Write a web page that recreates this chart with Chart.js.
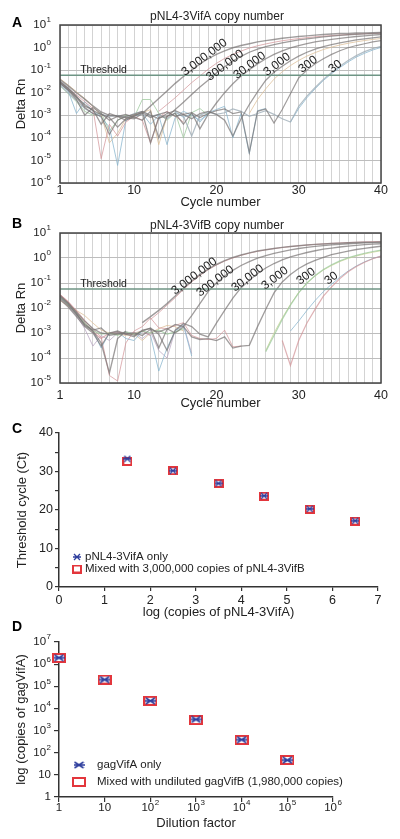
<!DOCTYPE html>
<html>
<head>
<meta charset="utf-8">
<script src="https://cdn.jsdelivr.net/npm/chart.js@4.4.1/dist/chart.umd.min.js"></script>
<style>
html, body { margin: 0; padding: 0; background: #fff; }
#wrap { position: relative; width: 400px; height: 839px; }
.panel { position: absolute; left: 0; width: 400px; }
</style>
</head>
<body>
<div id="wrap">
    <div class="panel" style="top:0"><canvas id="chartA" width="400" height="210"></canvas></div>
    <div class="panel" style="top:210px"><canvas id="chartB" width="400" height="210"></canvas></div>
    <div class="panel" style="top:420px"><canvas id="chartC" width="400" height="200"></canvas></div>
    <div class="panel" style="top:620px"><canvas id="chartD" width="400" height="219"></canvas></div>
</div>
<script>
// ---- data ----
var cycles = [1,2,3,4,5,6,7,8,9,10,11,12,13,14,15,16,17,18,19,20,21,22,23,24,25,26,27,28,29,30,31,32,33,34,35,36,37,38,39,40];
var cycleLabels = [1, 10, 20, 30, 40];
var dilutionNames = ['3,000,000', '300,000', '30,000', '3,000', '300', '30'];

var thresholdA = 0.06;
var thresholdB = 0.058;
var aTicks = [1e-6, 1e-5, 1e-4, 1e-3, 1e-2, 1e-1, 1, 10];
var bTicks = [1e-5, 1e-4, 1e-3, 1e-2, 1e-1, 1, 10];

// panel A: one full trace per dilution (cycles 1-40)
var a3M = [3.8e-2,2.0e-2,1.0e-2,5.2e-3,2.6e-3,1.4e-3,1.0e-3,9e-4,8e-4,7e-4,1.2e-3,2.6e-3,5.6e-3,1.2e-2,2.6e-2,5.2e-2,0.10,0.19,0.32,0.50,0.72,0.98,1.23,1.48,1.78,2.04,2.29,2.57,2.82,3.09,3.31,3.55,3.8,3.98,4.17,4.27,4.4,4.5,4.6,4.7];
var a300k = [3.2e-2,1.6e-2,7e-3,2.5e-3,1.8e-3,4e-4,1.2e-3,9e-4,6e-4,9e-4,1.4e-3,6e-5,8e-4,8.7e-4,1.8e-3,3.8e-3,8.3e-3,1.8e-2,3.6e-2,7.4e-2,0.14,0.25,0.41,0.62,0.85,1.1,1.35,1.62,1.9,2.19,2.45,2.69,2.95,3.24,3.47,3.7,3.89,4.07,4.2,4.37];
var a30k = [2.8e-2,1.3e-2,5e-3,1e-3,2.2e-3,1.2e-3,6e-4,9e-4,1.1e-3,8e-4,6e-4,1.5e-3,1e-4,9e-4,1.2e-3,4e-4,1.3e-3,2.5e-4,1.1e-3,3.5e-3,1e-2,2.5e-2,5.5e-2,0.105,0.19,0.32,0.5,0.72,0.98,1.23,1.48,1.78,2.04,2.29,2.57,2.82,3.09,3.31,3.55,3.8];
var a3k = [3.0e-2,1.5e-2,6.5e-3,3e-3,1.6e-3,1.1e-3,8e-4,3e-4,7e-4,1e-3,1.3e-3,8e-4,1.1e-3,1.4e-3,9e-4,1.1e-3,7e-4,1.2e-3,1.5e-3,1.1e-3,6e-4,1.2e-4,7e-4,3e-3,1.1e-2,3.6e-2,8e-2,0.15,0.26,0.42,0.62,0.85,1.1,1.35,1.62,1.9,2.19,2.45,2.69,2.95];
var a300 = [2.6e-2,1.3e-2,6e-3,2.2e-3,1.2e-3,9e-4,1.4e-4,6e-4,9e-4,1.1e-3,1.5e-3,1e-3,7e-4,1.2e-3,1.6e-3,1.1e-3,1.3e-3,8e-4,1.2e-3,1.6e-3,1.9e-3,1.2e-3,1.4e-3,2.2e-5,1.5e-3,1.9e-3,4.5e-4,1.8e-3,9e-3,4.5e-2,0.1,0.19,0.32,0.5,0.72,0.98,1.23,1.48,1.78,2.04];
var a30 = [2.2e-2,1.0e-2,4.5e-3,2e-3,1.2e-3,1.1e-3,9e-4,1e-3,8e-4,1.2e-3,1.5e-3,9e-4,1.1e-3,7e-4,1.3e-3,9e-4,1.2e-4,1e-3,1.4e-3,1.1e-3,1.3e-3,1.9e-3,1.5e-3,9e-4,1.2e-3,1.6e-3,1.1e-3,7e-4,5e-4,2.5e-3,7e-3,1.7e-2,3.9e-2,7.8e-2,0.15,0.27,0.44,0.66,0.9,1.15];
// panel A: extra replicate / baseline traces (first cycle noted)
var aNoise1 = [3.0e-2,1.5e-2,8e-3,4e-3,2e-3,1.2e-5,4e-4,1.2e-4,5e-4,9e-4,6e-4,6e-5,8e-4,1.5e-3,9e-4,5e-4];
var aNoise2 = [2.5e-2,1.2e-2,1.2e-3,4e-3,1.5e-3,8e-4,3e-4,6e-6,6e-4,9e-4,1.2e-3,4e-4,1e-3,5e-5,8e-4,1.5e-3,1e-3,6e-4,1.1e-3];
var aNoise3 = [4.2e-2,2.2e-2,1.1e-2,5.5e-3,2.5e-3,1e-3,6e-5,1.6e-4,7e-4,1e-3,1.3e-3,1.8e-3,5e-5,9e-4];
var aNoise4 = [2e-2,9e-3,4e-3,1.5e-3,1e-3,1.3e-3,2e-4,6e-4,1e-3,8e-4,5e-3,5e-3,1.2e-3,6e-4,1.3e-3,1e-4,1.3e-3,2e-3,1e-3];
var aNoise5 = [1.5e-3,8e-4,1.2e-3,5e-4,1.3e-3,1.8e-3,2.5e-3,1e-4,1.2e-3,2e-5,1.6e-3,2e-3];            // from cycle 15
var aRep300k = [1.5e-3,3e-3,6e-3,1.3e-2,2.8e-2,5.5e-2,0.11,0.2,0.33,0.5,0.7,0.95,1.2,1.45,1.72,2.0,2.25,2.5,2.75,3.0,3.2,3.4,3.6,3.78,3.95,4.1,4.22,4.35]; // from 13
var aRep3k = [1.2e-3,5e-3,1.5e-2,4e-2,8.5e-2,0.16,0.27,0.42,0.6,0.82,1.05,1.3,1.55,1.8,2.05,2.3,2.5]; // from 24
var aRep30 = [5e-4,2e-3,6e-3,1.5e-2,3.5e-2,7e-2,0.13,0.23,0.38,0.56,0.78,1.02];   // from 29

// panel B
var b3M = [3e-2,1.5e-2,6e-3,2e-3,1.2e-3,4e-4,2.5e-5,6e-4,1.2e-3,null,2.6e-3,4.5e-3,8e-3,1.5e-2,3e-2,6.2e-2,0.12,0.22,0.36,0.55,0.78,1.05,1.32,1.6,1.9,2.15,2.4,2.65,2.9,3.1,3.3,3.5,3.65,3.8,3.92,4.05,4.15,4.25,4.32,4.4];
var b300k = [3.2e-2,1.6e-2,7e-3,3e-3,1.5e-3,1e-3,9e-4,1e-3,9e-4,7e-4,1.3e-3,1.5e-3,2.5e-4,1.4e-3,2.2e-3,1.8e-3,5e-3,1.5e-2,4.5e-2,0.1,0.19,0.32,0.5,0.72,0.98,1.25,1.52,1.8,2.1,2.4,2.65,2.9,3.15,3.35,3.55,3.72,3.88,4.0,4.12,4.22];
var b30k = [2.6e-2,1.3e-2,5.5e-3,2.2e-3,1.3e-3,1.6e-3,8e-4,9e-4,1e-3,8e-4,1.2e-3,1.6e-3,9e-4,2e-4,1.3e-3,2.4e-3,1.8e-3,9e-4,7e-4,2.5e-3,8e-3,2.5e-2,6.5e-2,0.13,0.24,0.4,0.6,0.84,1.1,1.38,1.66,1.95,2.25,2.5,2.75,3.0,3.2,3.4,3.58,3.72];
var b3k = [2.2e-2,1.1e-2,4.5e-3,1.8e-3,1e-3,3e-4,1e-3,1.2e-3,9e-4,1e-3,8e-4,1.4e-3,1.1e-3,1.5e-3,1e-3,1.8e-3,7e-4,5.5e-4,6e-4,5e-4,7e-4,2.5e-4,3e-4,3.2e-4,1.8e-3,8.9e-3,4e-2,0.11,0.22,0.38,0.58,0.81,1.07,1.35,1.62,1.9,2.19,2.45,2.69,2.95];
var b300 = [2.8e-2,1.4e-2,6e-3,2.4e-3,1.2e-3,9e-4,1e-3,8e-4,1.1e-3,9e-4,1.2e-3,1e-3,1.3e-3,9e-4,1.1e-3,1.5e-3,null,null,null,null,null,null,null,null,null,1.8e-4,8e-4,3.5e-3,1.3e-2,4e-2,0.1,0.2,0.35,0.54,0.77,1.02,1.28,1.55,1.82,2.08];
var b30 = [3.4e-2,1.7e-2,7e-3,2.6e-3,1.1e-3,6e-4,1e-3,1.1e-3,9e-4,1e-3,1.2e-3,8e-4,null,null,null,null,null,null,null,null,null,null,null,null,null,null,null,5e-4,5e-5,5e-4,2.5e-3,9e-3,3e-2,7e-2,0.15,0.28,0.46,0.68,0.93,1.2];
var bNoise1 = [2.8e-2,1.4e-2,6e-3,2.5e-3,1.2e-3,2.5e-4,1e-3,1.1e-3,6e-4,5e-4,1.2e-3,8e-4,3e-5,2.5e-4,1.2e-3,2e-3,1.2e-4];
var bNoise2 = [3.5e-2,1.8e-2,8e-3,3.2e-3,1.4e-3,7e-4,2e-5,1.2e-5,4e-4,1.2e-3,1.8e-3,4e-3,1.6e-3,1.5e-3,2e-3,2.6e-3,8e-4,6e-4,5.5e-4,6e-4,1.3e-3,2.8e-4,3e-4];
var bNoise3 = [2e-2,1.2e-2,8e-3,5e-3,2.5e-3,1.3e-3,1e-3,9e-4,8e-4,9e-4,5e-4,1e-3,1.5e-3,2e-3,1.8e-3,1.2e-3];
var bNoise4 = [2.4e-2,1.2e-2,5e-3,1.5e-3,3e-4,8e-4,5e-4,1e-3,1.1e-3,1e-3,6e-4,1.1e-3,2e-4,1e-4,1.3e-3,2.2e-3,1.5e-4];
var bRep3M = [3.5e-3,6.5e-3,1.3e-2,2.6e-2,5.5e-2,0.11,0.2,0.34,0.52,0.75,1.0,1.28,1.56,1.85,2.12,2.38,2.62,2.86,3.08,3.3,3.5,3.68,3.85,4.0,4.15,4.28,4.4,4.5,4.6]; // from 12
var bRep300 = [2e-4,1e-3,4e-3,1.4e-2,4.2e-2,0.1,0.19,0.33,0.5,0.72,0.96,1.2,1.45,1.7,1.95]; // from 26
var bRep30 = [1.2e-3,3e-3,8e-3,2e-2,4.5e-2,9e-2,0.17,0.3,0.48,0.7,0.95,1.2]; // from 29

// panel C
var cLogCopies = [1.5, 2.5, 3.5, 4.5, 5.5, 6.5];
var cCtOnly = [33.3, 30.2, 26.9, 23.7, 20.3, 17.2];
var cCtMixed = [32.6, 30.2, 26.9, 23.6, 20.2, 17.1];

// panel D
var dDilution = [1, 10, 100, 1000, 10000, 100000];
var dCopiesOnly = [1.95e6, 2.0e5, 2.2e4, 3.2e3, 3.9e2, 4.6e1];
var dCopiesMixed = [1.9e6, 2.0e5, 2.2e4, 3.0e3, 3.8e2, 4.7e1];
var dYTicks = [1, 10, 1e2, 1e3, 1e4, 1e5, 1e6, 1e7];
var dXTicks = [1, 10, 1e2, 1e3, 1e4, 1e5, 1e6];

// ---- styling ----
var FONT = 'Arial, "Liberation Sans", Helvetica, sans-serif';
var INK = '#222';
var GREY = 'rgba(120,116,116,0.7)';
var PINK = 'rgba(210,145,150,0.7)';
var BLUE = 'rgba(135,180,205,0.75)';
var TAN = 'rgba(220,190,150,0.75)';
var GREEN = 'rgba(155,200,155,0.75)';
var LILAC = 'rgba(180,160,190,0.7)';

function pad(start, values) {
    var out = cycles.map(function() { return null; });
    values.forEach(function(v, i) { out[start - 1 + i] = v; });
    return out;
}

function trace(data, color, width) {
    return {
        data: data,
        borderColor: color,
        borderWidth: width || 1,
        pointRadius: 0,
        fill: false,
        tension: 0,
        spanGaps: false
    };
}

function points(xs, ys) {
    return xs.map(function(x, i) { return { x: x, y: ys[i] }; });
}

function expParts(v, plainSmall) {
    var e = Math.round(Math.log10(v));
    if (plainSmall && e === 0) return ['1', ''];
    if (plainSmall && e === 1) return ['10', ''];
    return ['10', String(e)];
}

function drawPow(ctx, v, x, y, align, size, plainSmall) {
    var p = expParts(v, plainSmall);
    ctx.font = size + 'px ' + FONT;
    var w1 = ctx.measureText(p[0]).width;
    ctx.font = Math.round(size * 0.72) + 'px ' + FONT;
    var w2 = p[1] ? ctx.measureText(p[1]).width + 0.5 : 0;
    var x0 = align === 'right' ? x - w1 - w2 : x - (w1 + w2) / 2;
    ctx.fillStyle = INK;
    ctx.textAlign = 'left';
    ctx.textBaseline = 'middle';
    ctx.font = size + 'px ' + FONT;
    ctx.fillText(p[0], x0, y);
    if (p[1]) {
        ctx.font = Math.round(size * 0.72) + 'px ' + FONT;
        ctx.fillText(p[1], x0 + w1 + 0.5, y - size * 0.42);
    }
}

function drawLetter(ctx, letter, x, y) {
    ctx.fillStyle = '#000';
    ctx.font = 'bold 14px ' + FONT;
    ctx.textAlign = 'left';
    ctx.textBaseline = 'alphabetic';
    ctx.fillText(letter, x, y);
}

// ---- panels A and B ----
function qpcrPlugin(cfg) {
    return {
        id: 'qpcrText' + cfg.letter,
        afterDraw: function(chart) {
            var ctx = chart.ctx, area = chart.chartArea;
            var xs = chart.scales.x, ys = chart.scales.y;
            ctx.save();
            ctx.strokeStyle = '#444';
            ctx.lineWidth = 1.5;
            ctx.strokeRect(area.left, area.top, area.right - area.left, area.bottom - area.top);

            drawLetter(ctx, cfg.letter, 12, cfg.letterY);
            ctx.fillStyle = INK;
            ctx.font = '12px ' + FONT;
            ctx.textAlign = 'center';
            ctx.textBaseline = 'middle';
            ctx.fillText(cfg.title, 217, cfg.titleY);

            ys.ticks.forEach(function(t) {
                drawPow(ctx, t.value, 51, ys.getPixelForValue(t.value), 'right', 11.5, false);
            });

            var ty = ys.getPixelForValue(cfg.threshold);
            ctx.fillStyle = INK;
            ctx.font = '10.5px ' + FONT;
            ctx.textAlign = 'left';
            ctx.textBaseline = 'alphabetic';
            ctx.fillText('Threshold', xs.getPixelForValue(3.45), ty - 2);

            ctx.font = '12px ' + FONT;
            dilutionNames.forEach(function(name, i) {
                ctx.save();
                ctx.translate(xs.getPixelForValue(cfg.labelCycles[i]), ty + cfg.labelShift[i]);
                ctx.rotate(-37 * Math.PI / 180);
                ctx.fillText(name, 0, 0);
                ctx.restore();
            });
            ctx.restore();
        }
    };
}

function qpcrChart(id, cfg) {
    var lines = [trace(cycles.map(function() { return cfg.threshold; }), '#6f9585', 1.5)].concat(cfg.datasets);
    return new Chart(document.getElementById(id), {
        type: 'line',
        data: { labels: cycles, datasets: lines },
        options: {
            responsive: false,
            animation: false,
            events: [],
            layout: { padding: { top: cfg.padTop, right: 19, left: 0, bottom: 0 } },
            plugins: { legend: { display: false }, tooltip: { enabled: false } },
            scales: {
                x: {
                    type: 'linear', min: 1, max: 40,
                    afterBuildTicks: function(s) { s.ticks = cycles.map(function(c) { return { value: c }; }); },
                    afterFit: function(s) { s.height = cfg.xHeight; },
                    ticks: {
                        autoSkip: false, maxRotation: 0, padding: cfg.xTickPad, color: INK,
                        font: { family: FONT, size: 12.5 },
                        callback: function(v) { return cycleLabels.indexOf(v) >= 0 ? String(v) : ''; }
                    },
                    grid: { color: '#d3d3d3', lineWidth: 1, drawTicks: false },
                    border: { display: false },
                    title: { display: true, text: 'Cycle number', color: INK, font: { family: FONT, size: 13 }, padding: { top: 0, bottom: cfg.xTitlePad } }
                },
                y: {
                    type: 'logarithmic', min: cfg.ticks[0], max: 10,
                    afterBuildTicks: function(s) { s.ticks = cfg.ticks.map(function(v) { return { value: v }; }); },
                    afterFit: function(s) { s.width = 60; },
                    ticks: { display: false },
                    grid: { color: '#bdbdbd', lineWidth: 1, drawTicks: false },
                    border: { display: false },
                    title: { display: true, text: 'Delta Rn', color: INK, font: { family: FONT, size: 13 }, padding: { top: 14, bottom: 0 } }
                }
            }
        },
        plugins: [qpcrPlugin(cfg)]
    });
}

qpcrChart('chartA', {
    letter: 'A', letterY: 27, title: 'pNL4-3VifA copy number', titleY: 17,
    threshold: thresholdA, ticks: aTicks,
    padTop: 25, xHeight: 27, xTickPad: 0, xTitlePad: 0,
    labelCycles: [16.2, 19.2, 22.5, 26.15, 30.4, 34.05],
    labelShift: [1, 6, 4, 1, -2, -2],
    datasets: [
        trace(a3M, GREY, 1.4), trace(a300k, GREY, 1.3), trace(a30k, GREY, 1.3),
        trace(a3k, GREY, 1.3), trace(a300, GREY, 1.2), trace(a30, 'rgba(160,175,185,0.8)', 1.2),
        trace(pad(13, aRep300k), PINK, 1), trace(pad(24, aRep3k), TAN, 1), trace(pad(29, aRep30), BLUE, 1),
        trace(pad(1, aNoise1), PINK, 1), trace(pad(1, aNoise2), BLUE, 1), trace(pad(1, aNoise3), TAN, 1),
        trace(pad(1, aNoise4), GREEN, 1), trace(pad(15, aNoise5), BLUE, 1)
    ]
});

qpcrChart('chartB', {
    letter: 'B', letterY: 18, title: 'pNL4-3VifB copy number', titleY: 16,
    threshold: thresholdB, ticks: bTicks,
    padTop: 23, xHeight: 37, xTickPad: 5, xTitlePad: 9,
    labelCycles: [14.97, 18.0, 22.26, 25.9, 30.16, 33.56],
    labelShift: [6, 8, 3, 1, -4, -4],
    datasets: [
        trace(b3M, GREY, 1.4), trace(b300k, GREY, 1.3), trace(b30k, GREY, 1.3),
        trace(b3k, GREY, 1.3), trace(b300, GREEN, 1.2), trace(b30, PINK, 1.2),
        trace(pad(12, bRep3M), PINK, 1), trace(pad(26, bRep300), 'rgba(205,215,155,0.8)', 1), trace(pad(29, bRep30), BLUE, 1),
        trace(pad(1, bNoise1), BLUE, 1), trace(pad(1, bNoise2), PINK, 1), trace(pad(1, bNoise3), TAN, 1),
        trace(pad(1, bNoise4), LILAC, 1)
    ]
});

// ---- markers for C and D ----
function marker(w, h, draw) {
    var c = document.createElement('canvas');
    c.width = w;
    c.height = h;
    draw(c.getContext('2d'), w, h);
    return c;
}
function boxMarker(w, h) {
    return marker(w, h, function(g) {
        g.fillStyle = '#fff';
        g.fillRect(1, 1, w - 2, h - 2);
        g.strokeStyle = '#e3363c';
        g.lineWidth = 2;
        g.strokeRect(1, 1, w - 2, h - 2);
    });
}
function starMarker(w, h, vertical, lw) {
    return marker(w, h, function(g) {
        g.strokeStyle = '#2f3f9e';
        g.lineWidth = lw;
        g.beginPath();
        g.moveTo(1, 1); g.lineTo(w - 1, h - 1);
        g.moveTo(w - 1, 1); g.lineTo(1, h - 1);
        g.moveTo(0, h / 2); g.lineTo(w, h / 2);
        if (vertical) { g.moveTo(w / 2, 0); g.lineTo(w / 2, h); }
        g.stroke();
    });
}
var cStar = starMarker(8, 8, false, 1.3);
var cBox = boxMarker(10, 9);
var dStar = starMarker(11, 8, false, 1.6);
var dBox = boxMarker(14, 10);

function axisStyle(title, titlePad, tickSize) {
    return {
        grid: { display: true, drawOnChartArea: false, drawTicks: true, tickLength: 4, color: '#333', lineWidth: 1.2 },
        border: { display: true, color: '#333', width: 1.5 },
        ticks: { color: INK, font: { family: FONT, size: tickSize }, padding: 2 },
        title: { display: true, text: title, color: INK, font: { family: FONT, size: 13 }, padding: titlePad }
    };
}

function legendPlugin(id, letter, letterY, rows, extra) {
    return {
        id: id,
        afterDraw: function(chart) {
            var ctx = chart.ctx;
            ctx.save();
            drawLetter(ctx, letter, 12, letterY);
            rows.forEach(function(r) {
                ctx.drawImage(r.img, r.x - r.img.width / 2, r.y - r.img.height / 2);
                ctx.fillStyle = INK;
                ctx.font = '11.5px ' + FONT;
                ctx.textAlign = 'left';
                ctx.textBaseline = 'middle';
                ctx.fillText(r.text, r.tx, r.y);
            });
            if (extra) extra(chart, ctx);
            ctx.restore();
        }
    };
}

// ---- panel C ----
var cX = axisStyle('log (copies of pNL4-3VifA)', { top: 0, bottom: 0 }, 12.5);
cX.min = 0; cX.max = 7; cX.ticks.stepSize = 1;
cX.afterFit = function(s) { s.height = 33; };
var cY = axisStyle('Threshold cycle (Ct)', { top: 15, bottom: 0 }, 12.5);
cY.min = 0; cY.max = 40; cY.ticks.stepSize = 5;
cY.ticks.callback = function(v) { return v % 10 === 0 ? String(v) : ''; };
cY.afterFit = function(s) { s.width = 59; };

new Chart(document.getElementById('chartC'), {
    type: 'scatter',
    data: {
        datasets: [
            { data: points(cLogCopies, cCtOnly), pointStyle: cStar, pointRadius: 4, clip: false },
            { data: points(cLogCopies, cCtMixed), pointStyle: cBox, pointRadius: 5, clip: false }
        ]
    },
    options: {
        responsive: false, animation: false, events: [],
        layout: { padding: { top: 13, right: 22, left: 0, bottom: 0 } },
        plugins: { legend: { display: false }, tooltip: { enabled: false } },
        scales: { x: cX, y: cY }
    },
    plugins: [legendPlugin('legendC', 'C', 13, [
        { img: cStar, x: 77, y: 137, tx: 85, text: 'pNL4-3VifA only' },
        { img: cBox, x: 77, y: 149, tx: 85, text: 'Mixed with 3,000,000 copies of pNL4-3VifB' }
    ])]
});

// ---- panel D ----
var dX = axisStyle('Dilution factor', { top: 0, bottom: 8 }, 12);
dX.type = 'logarithmic'; dX.min = 1; dX.max = 1e6;
dX.grid.tickLength = 5;
dX.ticks.display = false;
dX.afterBuildTicks = function(s) { s.ticks = dXTicks.map(function(v) { return { value: v }; }); };
dX.afterFit = function(s) { s.height = 42; };
var dY = axisStyle('log (copies of gagVifA)', { top: 14, bottom: 0 }, 12);
dY.type = 'logarithmic'; dY.min = 1; dY.max = 1e7;
dY.grid.tickLength = 5;
dY.ticks.display = false;
dY.afterBuildTicks = function(s) { s.ticks = dYTicks.map(function(v) { return { value: v }; }); };
dY.afterFit = function(s) { s.width = 59; };

new Chart(document.getElementById('chartD'), {
    type: 'scatter',
    data: {
        datasets: [
            { data: points(dDilution, dCopiesOnly), pointStyle: dStar, pointRadius: 5, clip: false },
            { data: points(dDilution, dCopiesMixed), pointStyle: dBox, pointRadius: 6, clip: false }
        ]
    },
    options: {
        responsive: false, animation: false, events: [],
        layout: { padding: { top: 22, right: 67, left: 0, bottom: 0 } },
        plugins: { legend: { display: false }, tooltip: { enabled: false } },
        scales: { x: dX, y: dY }
    },
    plugins: [legendPlugin('legendD', 'D', 11, [
        { img: dStar, x: 79, y: 145, tx: 97, text: 'gagVifA only' },
        { img: dBox, x: 79, y: 162, tx: 97, text: 'Mixed with undiluted gagVifB (1,980,000 copies)' }
    ], function(chart, ctx) {
        var xs = chart.scales.x, ys = chart.scales.y, area = chart.chartArea;
        ys.ticks.forEach(function(t) { drawPow(ctx, t.value, 51, ys.getPixelForValue(t.value), 'right', 11.5, true); });
        xs.ticks.forEach(function(t) { drawPow(ctx, t.value, xs.getPixelForValue(t.value), area.bottom + 11, 'center', 11.5, true); });
    })]
});
</script>
</body>
</html>
